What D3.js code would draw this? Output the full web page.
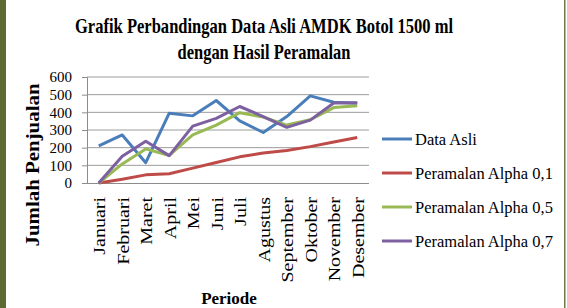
<!DOCTYPE html>
<html>
<head>
<meta charset="utf-8">
<script src="https://cdn.jsdelivr.net/npm/d3@7"></script>
<style>
  body { margin: 0; background: #fff; }
  svg { display: block; }
  text { font-family: "Liberation Serif", "Times New Roman", serif; fill: #000; }
</style>
</head>
<body>
<div id="chart"></div>
<script>
const months = ["Januari", "Februari", "Maret", "April", "Mei", "Juni", "Juli", "Agustus", "September", "Oktober", "November", "Desember"];
const dataAsli = [210, 272, 115, 395, 380, 467, 352, 286, 376, 493, 457, 452];
const alpha01 = [0, 21, 46, 52, 84, 116, 148, 170, 184, 206, 232, 257];
const alpha05 = [0, 108, 193, 156, 272, 328, 398, 373, 328, 358, 427, 437];
const alpha07 = [0, 151, 236, 155, 322, 366, 433, 376, 315, 356, 453, 454];
const yTicks = [0, 100, 200, 300, 400, 500, 600];

const seriesNames = ["Data Asli", "Peramalan Alpha 0,1", "Peramalan Alpha 0,5", "Peramalan Alpha 0,7"];
const seriesColors = ["#4a7ebb", "#be4b48", "#98b954", "#7d60a0"];
const series = [dataAsli, alpha01, alpha05, alpha07];

const width = 567;
const height = 308;
const plotLeft = 87, plotRight = 369, plotTop = 77, plotBottom = 183;
const serif = "'Liberation Serif', 'Times New Roman', serif";

const svg = d3.select("#chart").append("svg")
  .attr("width", width)
  .attr("height", height);

// frame edges of the original screenshot
svg.append("rect").attr("x", 0).attr("y", 0).attr("width", 6).attr("height", height).attr("fill", "#5d6a33");
svg.append("rect").attr("x", 564).attr("y", 0).attr("width", 1.5).attr("height", height).attr("fill", "#6e7a48");

const x = d3.scalePoint().domain(months).range([plotLeft, plotRight]).padding(0.5);
const y = d3.scaleLinear().domain([0, 600]).range([plotBottom, plotTop]);

// grid
svg.append("g")
  .selectAll("line")
  .data(yTicks.slice(1))
  .enter()
  .append("line")
  .attr("x1", plotLeft)
  .attr("x2", plotRight)
  .attr("y1", d => y(d))
  .attr("y2", d => y(d))
  .attr("stroke", "#9c9c9c")
  .attr("stroke-width", 1);

// y axis
const yAxis = svg.append("g")
  .attr("transform", "translate(" + plotLeft + ",0)")
  .call(d3.axisLeft(y).tickValues(yTicks).tickSize(5).tickPadding(10))
  .attr("font-family", serif)
  .attr("font-size", 15);
yAxis.select(".domain").attr("stroke", "#8c8c8c");
yAxis.selectAll(".tick line").attr("stroke", "#8c8c8c");

// x axis
const xAxis = svg.append("g")
  .attr("transform", "translate(0," + plotBottom + ")")
  .call(d3.axisBottom(x).tickSize(0).tickSizeOuter(0))
  .attr("font-family", serif)
  .attr("font-size", 20);
xAxis.select(".domain").attr("stroke", "#8c8c8c").attr("d", "M" + (plotLeft - 5) + ",0.5H" + plotRight);
xAxis.selectAll("text")
  .attr("text-anchor", "end")
  .attr("y", 0)
  .attr("dy", "0.33em")
  .attr("transform", "translate(0,14) rotate(-90) scale(1,0.88)");

// lines
const line = d3.line()
  .x((d, i) => x(months[i]))
  .y(d => y(d));

svg.append("g")
  .selectAll("path")
  .data(series)
  .enter()
  .append("path")
  .attr("d", d => line(d))
  .attr("fill", "none")
  .attr("stroke", (d, i) => seriesColors[i])
  .attr("stroke-width", 3)
  .attr("stroke-linejoin", "round");

// legend
const legend = svg.append("g")
  .selectAll("g")
  .data(seriesNames)
  .enter()
  .append("g")
  .attr("transform", (d, i) => "translate(382," + (139 + i * 34) + ")");

legend.append("line")
  .attr("x1", 0).attr("x2", 30)
  .attr("stroke", (d, i) => seriesColors[i])
  .attr("stroke-width", 3);

legend.append("text")
  .attr("x", 33)
  .attr("dy", "0.34em")
  .style("font-size", "16.5px")
  .text(d => d);

// titles
svg.append("text")
  .attr("x", 264).attr("y", 33)
  .attr("text-anchor", "middle")
  .attr("textLength", 378)
  .attr("lengthAdjust", "spacingAndGlyphs")
  .style("font-size", "21px")
  .style("font-weight", "bold")
  .text("Grafik Perbandingan Data Asli AMDK Botol  1500 ml");

svg.append("text")
  .attr("x", 264).attr("y", 59)
  .attr("text-anchor", "middle")
  .attr("textLength", 173)
  .attr("lengthAdjust", "spacingAndGlyphs")
  .style("font-size", "21px")
  .style("font-weight", "bold")
  .text("dengan Hasil Peramalan");

svg.append("text")
  .attr("transform", "translate(39,165) rotate(-90)")
  .attr("text-anchor", "middle")
  .attr("textLength", 163)
  .attr("lengthAdjust", "spacingAndGlyphs")
  .style("font-size", "18px")
  .style("font-weight", "bold")
  .text("Jumlah  Penjualan");

svg.append("text")
  .attr("x", 229).attr("y", 304)
  .attr("text-anchor", "middle")
  .style("font-size", "17px")
  .style("font-weight", "bold")
  .text("Periode");
</script>
</body>
</html>
